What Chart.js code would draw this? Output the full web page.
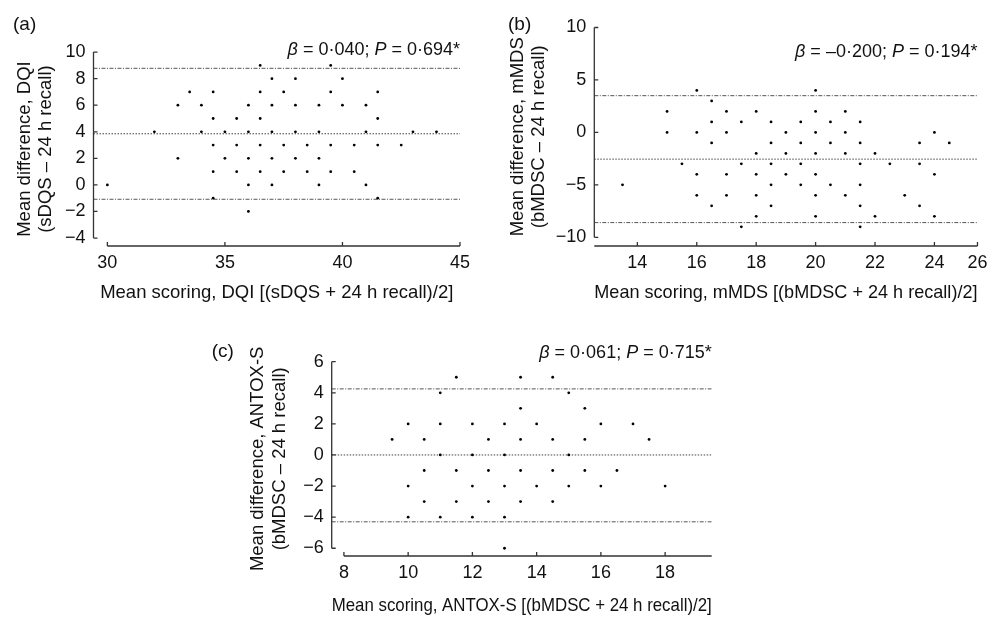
<!DOCTYPE html>
<html>
<head>
<meta charset="utf-8">
<script src="https://cdn.jsdelivr.net/npm/chart.js@4.4.1/dist/chart.umd.min.js"></script>
<style>
  body { margin: 0; background: #fff; width: 994px; height: 617px; position: relative; overflow: hidden; }
  .panel { position: absolute; }
  canvas { display: block; }
</style>
</head>
<body>
<div class="panel" style="left:0px;top:0px"><canvas id="chartA" width="490" height="310"></canvas></div>
<div class="panel" style="left:490px;top:0px"><canvas id="chartB" width="504" height="310"></canvas></div>
<div class="panel" style="left:190px;top:310px"><canvas id="chartC" width="560" height="307"></canvas></div>
<script>
// (a) DQI: mean scoring vs mean difference
const meanA = [30, 32, 33, 33, 33.5, 34, 34, 34.5, 34.5, 34.5, 34.5, 34.5, 35, 35, 35.5, 35.5, 35.5,
  36, 36, 36, 36, 36, 36.5, 36.5, 36.5, 36.5, 36.5, 37, 37, 37, 37, 37, 37.5, 37.5, 37.5,
  38, 38, 38, 38, 38.5, 38.5, 39, 39, 39, 39, 39.5, 39.5, 39.5, 39.5, 40, 40, 40.5, 40.5,
  41, 41, 41, 41.5, 41.5, 41.5, 41.5, 42.5, 43, 44];
const diffA = [0, 4, 6, 2, 7, 6, 4, 7, 5, 3, 1, -1, 4, 2, 5, 3, 1,
  6, 4, 2, 0, -2, 9, 7, 5, 3, 1, 8, 6, 4, 2, 0, 7, 3, 1,
  8, 6, 4, 2, 3, 1, 6, 4, 2, 0, 9, 7, 3, 1, 8, 6, 3, 1,
  6, 4, 0, 7, 5, 3, -1, 3, 4, 4];
const limitsA = [8.78, 3.85, -1.08];   // upper LoA, mean, lower LoA
const xTicksA = [30, 35, 40, 45];
const yTicksA = [-4, -2, 0, 2, 4, 6, 8, 10];
const statA = { beta: '0·040', p: '0·694' };

// (b) mMDS
const meanB = [13.5, 15, 15, 15.5, 16, 16, 16, 16, 16.5, 16.5, 16.5, 16.5, 17, 17, 17, 17,
  17.5, 17.5, 17.5, 18, 18, 18, 18, 18, 18.5, 18.5, 18.5, 18.5, 18.5, 19, 19, 19,
  19.5, 19.5, 19.5, 19.5, 20, 20, 20, 20, 20, 20, 20, 20.5, 20.5, 20.5, 21, 21, 21, 21,
  21.5, 21.5, 21.5, 21.5, 21.5, 21.5, 22, 22, 22.5, 23, 23.5, 23.5, 23.5, 24, 24, 24, 24.5];
const diffB = [-5, 2, 0, -3, 4, 0, -4, -6, 3, 1, -1, -7, 2, 0, -4, -6,
  1, -3, -9, 2, -2, -4, -6, -8, 1, -1, -3, -5, -7, 0, -2, -4,
  1, -1, -3, -5, 4, 2, 0, -2, -4, -6, -8, 1, -1, -5, 2, 0, -2, -6,
  1, -1, -3, -5, -7, -9, -2, -8, -3, -6, -1, -3, -7, 0, -4, -8, -1];
const limitsB = [3.5, -2.55, -8.6];
const xTicksB = [14, 16, 18, 20, 22, 24, 26];
const yTicksB = [-10, -5, 0, 5, 10];
const statB = { beta: '–0·200', p: '0·194' };

// (c) ANTOX-S
const meanC = [9.5, 10, 10, 10, 10.5, 10.5, 10.5, 11, 11, 11, 11, 11.5, 11.5, 11.5,
  12, 12, 12, 12, 12.5, 12.5, 12.5, 13, 13, 13, 13, 13, 13.5, 13.5, 13.5, 13.5, 13.5,
  14, 14, 14.5, 14.5, 14.5, 14.5, 15, 15, 15, 15.5, 15.5, 15.5, 16, 16, 16.5, 17, 17.5, 18];
const diffC = [1, 2, -2, -4, 1, -1, -3, 4, 2, 0, -4, 5, -1, -3,
  2, 0, -2, -4, 1, -1, -3, 2, 0, -2, -4, -6, 5, 3, 1, -1, -3,
  2, -2, 5, 1, -1, -3, 4, 0, -2, 3, 1, -1, 2, -2, -1, 2, 1, -2];
const limitsC = [4.25, 0, -4.3];
const xTicksC = [8, 10, 12, 14, 16, 18];
const yTicksC = [-6, -4, -2, 0, 2, 4, 6];
const statC = { beta: '0·061', p: '0·715' };

const FONT = '"Liberation Sans", Arial, Helvetica, sans-serif';
const INK = '#111';
Chart.defaults.font.family = FONT;
Chart.defaults.color = INK;

const fmt = v => (v < 0 ? '\u2212' + Math.abs(v) : String(v));

// offset axes (MATLAB style), inward ticks, panel letter and stats text
const panelDecor = {
  id: 'panelDecor',
  afterDraw(chart, args, o) {
    const { ctx, chartArea: ca, scales: { x, y } } = chart;
    ctx.save();
    ctx.strokeStyle = '#333';
    ctx.lineWidth = 1.3;
    ctx.beginPath();
    ctx.moveTo(ca.left, y.getPixelForValue(o.yLine[0]));
    ctx.lineTo(ca.left, y.getPixelForValue(o.yLine[1]));
    y.ticks.forEach(t => {
      const py = y.getPixelForValue(t.value);
      ctx.moveTo(ca.left, py);
      ctx.lineTo(ca.left + 4, py);
    });
    ctx.moveTo(x.getPixelForValue(o.xLine[0]), ca.bottom);
    ctx.lineTo(x.getPixelForValue(o.xLine[1]), ca.bottom);
    x.ticks.forEach(t => {
      const px = x.getPixelForValue(t.value);
      ctx.moveTo(px, ca.bottom);
      ctx.lineTo(px, ca.bottom - 4);
    });
    ctx.stroke();

    ctx.fillStyle = INK;
    ctx.textBaseline = 'middle';
    ctx.textAlign = 'left';
    ctx.font = '19px ' + FONT;
    ctx.fillText(o.letter, o.letterPos[0], o.letterPos[1]);

    const parts = [
      ['β', true], [' = ' + o.stat.beta + '; ', false],
      ['P', true], [' = ' + o.stat.p + '*', false]
    ];
    const widths = parts.map(([t, it]) => {
      ctx.font = (it ? 'italic ' : '') + '18px ' + FONT;
      return ctx.measureText(t).width;
    });
    let px = ca.right - widths.reduce((a, b) => a + b, 0);
    parts.forEach(([t, it], i) => {
      ctx.font = (it ? 'italic ' : '') + '18px ' + FONT;
      ctx.fillText(t, px, o.statY);
      px += widths[i];
    });
    ctx.restore();
  }
};

function makePanel(id, cfg) {
  const points = cfg.xs.map((v, i) => ({ x: v, y: cfg.ys[i] }));
  const lines = cfg.limits.map((v, i) => ({
    type: 'line',
    data: [{ x: cfg.xMin, y: v }, { x: cfg.xMax, y: v }],
    borderColor: i === 1 ? '#444' : '#555',
    borderWidth: 1,
    borderDash: i === 1 ? [1.5, 1.5] : [4, 1.5, 1, 1.5],
    pointRadius: 0,
    showLine: true
  }));

  new Chart(document.getElementById(id), {
    type: 'scatter',
    data: {
      datasets: [{
        data: points,
        pointRadius: 1.4,
        pointBackgroundColor: '#000',
        pointBorderWidth: 0
      }, ...lines]
    },
    options: {
      responsive: false,
      animation: false,
      layout: { padding: cfg.padding },
      plugins: {
        legend: { display: false },
        tooltip: { enabled: false },
        panelDecor: cfg.decor
      },
      scales: {
        x: {
          type: 'linear',
          min: cfg.xMin,
          max: cfg.xMax,
          grid: { display: false, drawTicks: false },
          border: { display: false },
          afterBuildTicks: s => { s.ticks = cfg.xTicks.map(v => ({ value: Math.min(v, s.max) })); },
          afterFit: s => { s.height = cfg.xHeight; },
          ticks: {
            autoSkip: false, maxRotation: 0, padding: 6.5,
            font: { size: 18 }, color: INK,
            callback: (v, i) => fmt(cfg.xTicks[i])
          },
          title: {
            display: true, text: cfg.xTitle, color: INK,
            font: { size: 18.5, lineHeight: 1.15 },
            padding: { top: 0, bottom: cfg.xTitlePad }
          }
        },
        y: {
          type: 'linear',
          min: cfg.yMin,
          max: cfg.yMax,
          grid: { display: false, drawTicks: false },
          border: { display: false },
          afterBuildTicks: s => { s.ticks = cfg.yTicks.map(v => ({ value: v })); },
          afterFit: s => { s.width = cfg.yWidth; },
          ticks: {
            autoSkip: false, padding: 8,
            font: { size: 18 }, color: INK,
            callback: v => fmt(v)
          },
          title: {
            display: true, text: cfg.yTitle, color: INK,
            font: { size: 18.5, lineHeight: 1.15 },
            padding: { top: cfg.yTitlePad, bottom: 0 }
          }
        }
      }
    },
    plugins: [panelDecor]
  });
}

makePanel('chartA', {
  xs: meanA, ys: diffA, limits: limitsA, xTicks: xTicksA, yTicks: yTicksA,
  xMin: 29.41, xMax: 45, yMin: -4.6, yMax: 10,
  padding: { left: 0, top: 52.1, right: 30, bottom: 0 },
  yWidth: 93.5, xHeight: 64, yTitlePad: 14.35, xTitlePad: 6.35,
  xTitle: 'Mean scoring, DQI [(sDQS + 24 h recall)/2]',
  yTitle: ['Mean difference, DQI', '(sDQS \u2013 24 h recall)'],
  decor: { xLine: [30, 45], yLine: [-4, 10], letter: '(a)', letterPos: [13, 25], statY: 50, stat: statA }
});

makePanel('chartB', {
  xs: meanB, ys: diffB, limits: limitsB, xTicks: xTicksB, yTicks: yTicksB,
  xMin: 12.55, xMax: 25.45, yMin: -10.83, yMax: 10,
  padding: { left: 0, top: 27.5, right: 13, bottom: 0 },
  yWidth: 104.3, xHeight: 64, yTitlePad: 17.35, xTitlePad: 6.35,
  xTitle: 'Mean scoring, mMDS [(bMDSC + 24 h recall)/2]',
  yTitle: ['Mean difference, mMDS', '(bMDSC \u2013 24 h recall)'],
  decor: { xLine: [12.55, 25.45], yLine: [-10, 10], letter: '(b)', letterPos: [18, 25], statY: 51.7, stat: statB }
});

makePanel('chartC', {
  xs: meanC, ys: diffC, limits: limitsC, xTicks: xTicksC, yTicks: yTicksC,
  xMin: 7.62, xMax: 19.45, yMin: -6.5, yMax: 6,
  padding: { left: 0, top: 51.7, right: 38.3, bottom: 0 },
  yWidth: 141.7, xHeight: 61, yTitlePad: 57.65, xTitlePad: 0,
  xTitle: 'Mean scoring, ANTOX-S [(bMDSC + 24 h recall)/2]',
  yTitle: ['Mean difference, ANTOX-S', '(bMDSC \u2013 24 h recall)'],
  decor: { xLine: [8, 19.45], yLine: [-6, 6], letter: '(c)', letterPos: [21.7, 41.7], statY: 43.3, stat: statC }
});
</script>
</body>
</html>
